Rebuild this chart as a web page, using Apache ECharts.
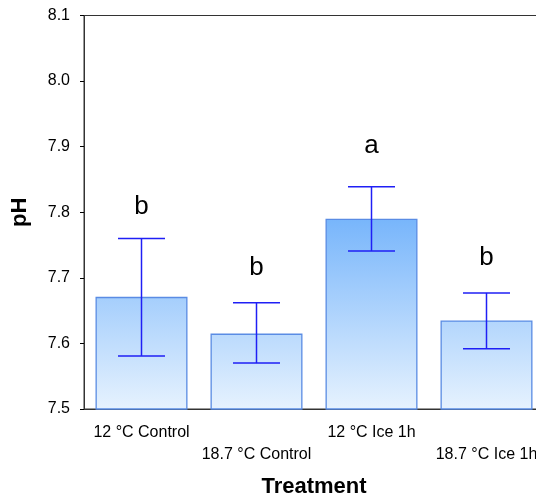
<!DOCTYPE html>
<html>
<head>
<meta charset="utf-8">
<script src="https://cdn.jsdelivr.net/npm/echarts@6/dist/echarts.min.js"></script>
<style>html,body{margin:0;padding:0;background:#fff;overflow:hidden;width:536px;height:503px}#c{width:544px;height:503px}</style>
</head>
<body>
<div id="c"></div>
<script>
var categories = ['12 °C Control', '18.7 °C Control', '12 °C Ice 1h', '18.7 °C Ice 1h'];
var means = [7.671, 7.615, 7.790, 7.635];
var errLow = [7.581, 7.570, 7.741, 7.592];
var errHigh = [7.760, 7.662, 7.839, 7.677];
var letters = ['b', 'b', 'a', 'b'];
var letterPos = [7.808, 7.716, 7.901, 7.730];
var yTicks = [7.5, 7.6, 7.7, 7.8, 7.9, 8.0, 8.1];

var chart = echarts.init(document.getElementById('c'));
var font = 'Arial, "Liberation Sans", sans-serif';
var errData = categories.map(function (c, i) { return [i, errLow[i], errHigh[i]]; });
var letterData = categories.map(function (c, i) { return [i, letterPos[i], letters[i]]; });

chart.setOption({
  animation: false,
  grid: { left: 84, top: 15.5, bottom: 94, right: 0, show: true, borderColor: '#333', borderWidth: 1 },
  xAxis: {
    type: 'category',
    data: categories,
    name: 'Treatment',
    nameLocation: 'middle',
    nameGap: 67,
    nameTextStyle: { fontFamily: font, fontWeight: 'bold', fontSize: 22, color: '#000' },
    axisLine: { lineStyle: { color: '#333', width: 1 } },
    axisTick: { alignWithLabel: true, length: 5, lineStyle: { color: '#000' } },
    axisLabel: {
      interval: 0,
      margin: 13,
      color: '#000',
      fontFamily: font,
      fontSize: 16,
      lineHeight: 22,
      formatter: function (v, i) { return i % 2 === 1 ? '\n' + v : v; }
    },
    splitLine: { show: false }
  },
  yAxis: {
    type: 'value',
    min: 7.5,
    max: 8.1,
    interval: 0.1,
    name: 'pH',
    nameLocation: 'middle',
    nameGap: 53,
    nameRotate: 90,
    nameTextStyle: { fontFamily: font, fontWeight: 'bold', fontSize: 22, color: '#000' },
    axisLine: { show: true, lineStyle: { color: '#333', width: 1 } },
    axisTick: { show: true, length: 4, lineStyle: { color: '#000' } },
    axisLabel: {
      color: '#000', fontFamily: font, fontSize: 16, margin: 14,
      formatter: function (v) { return yTicks.indexOf(Math.round(v * 10) / 10) >= 0 ? v.toFixed(1) : ''; }
    },
    splitLine: { show: false }
  },
  series: [
    {
      type: 'bar',
      data: means,
      barWidth: '80%',
      itemStyle: {
        color: {
          type: 'linear', x: 0, y: 218, x2: 0, y2: 409, global: true,
          colorStops: [{ offset: 0, color: '#77b5fb' }, { offset: 1, color: '#e6f2fe' }]
        },
        borderColor: '#5a8ce4',
        borderWidth: 1.3
      },
      z: 2
    },
    {
      type: 'custom',
      data: errData,
      z: 3,
      renderItem: function (params, api) {
        var x = api.value(0);
        var lo = api.coord([x, api.value(1)]);
        var hi = api.coord([x, api.value(2)]);
        var hw = 23.5;
        var st = { stroke: '#1f1ff5', lineWidth: 1.5 };
        return {
          type: 'group',
          children: [
            { type: 'line', shape: { x1: lo[0], y1: lo[1], x2: hi[0], y2: hi[1] }, style: st },
            { type: 'line', shape: { x1: hi[0] - hw, y1: hi[1], x2: hi[0] + hw, y2: hi[1] }, style: st },
            { type: 'line', shape: { x1: lo[0] - hw, y1: lo[1], x2: lo[0] + hw, y2: lo[1] }, style: st }
          ]
        };
      }
    },
    {
      type: 'custom',
      data: letterData,
      z: 4,
      renderItem: function (params, api) {
        var p = api.coord([api.value(0), api.value(1)]);
        return {
          type: 'text',
          style: {
            x: p[0], y: p[1], text: letters[params.dataIndex],
            fill: '#000', font: '26px Arial, "Liberation Sans", sans-serif',
            align: 'center', verticalAlign: 'middle'
          }
        };
      }
    }
  ]
});
</script>
</body>
</html>
